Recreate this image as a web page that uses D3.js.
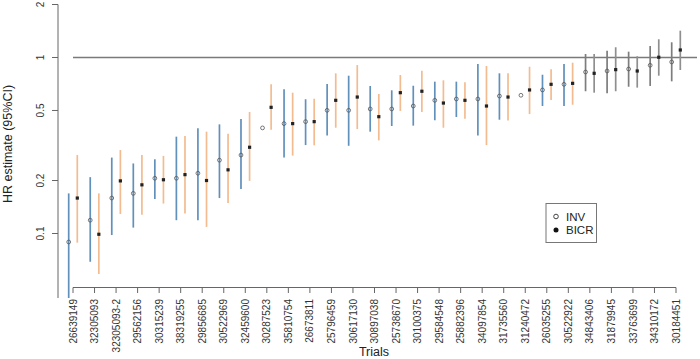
<!DOCTYPE html>
<html><head><meta charset="utf-8">
<script src="https://cdn.jsdelivr.net/npm/d3@7"></script>
<style>body{margin:0;background:#fff}svg{display:block;font-family:"Liberation Sans",Arial,sans-serif}</style>
</head><body><svg id="c" width="700" height="359"></svg>
<script>
const trials = ["26639149","32305093","32305093-2","29562156","30315239","38319255","29856685","30522969","32459600","30287523","35810754","26673811","25796459","30617130","30897038","25738670","30100375","29584548","25882396","34097854","31735560","31240472","26035255","30522922","34843406","31879945","33763699","34310172","30184451"];
const invHR = [0.0895,0.119,0.159,0.169,0.206,0.206,0.220,0.261,0.279,0.398,0.421,0.432,0.501,0.501,0.510,0.510,0.530,0.571,0.581,0.581,0.604,0.610,0.654,0.704,0.827,0.838,0.860,0.903,0.943];
const invLo = [0.04,0.0691,0.098,0.108,0.157,0.119,0.119,0.159,0.179,null,0.270,0.318,0.360,0.315,0.379,0.408,0.410,0.440,0.459,0.360,0.443,null,0.530,0.530,0.643,0.626,0.682,0.689,0.732];
const invHi = [0.169,0.209,0.270,0.250,0.264,0.355,0.396,0.417,0.447,null,0.660,0.579,0.707,0.788,0.689,0.651,0.691,0.729,0.729,0.918,0.813,null,0.798,0.918,1.047,1.093,1.079,1.162,1.22];
const bicrHR = [0.159,0.099,0.199,0.189,0.202,0.216,0.200,0.230,0.309,0.521,0.421,0.432,0.571,0.596,0.461,0.631,0.643,0.551,0.571,0.530,0.596,0.654,0.704,0.713,0.813,0.853,0.838,1.003,1.103];
const bicrLo = [0.0887,0.0589,0.129,0.128,0.148,0.130,0.109,0.149,0.199,0.389,0.277,0.317,0.399,0.392,0.338,0.497,0.490,0.399,0.449,0.318,0.438,0.477,0.574,0.539,0.631,0.643,0.674,0.788,0.849];
const bicrHi = [0.279,0.169,0.298,0.279,0.276,0.358,0.379,0.369,0.490,0.704,0.631,0.583,0.813,0.906,0.620,0.795,0.841,0.742,0.723,0.895,0.813,0.886,0.857,0.934,1.047,1.143,1.016,1.269,1.42];
const grayFrom = "34843406"; // trials from here on drawn in gray
const yTicks = [0.1, 0.2, 0.5, 1, 2];
const seriesNames = ["INV", "BICR"];

const svg = d3.select("#c");
const y = d3.scaleLog().domain([0.1, 2]).range([233.5, 4.5]);
const yBottom = 298;
const x = d3.scalePoint().domain(trials).range([73, 676]);
const off = 4.3;
const grayIdx = trials.indexOf(grayFrom);

svg.append("defs").append("clipPath").attr("id","pc").append("rect")
  .attr("x",58).attr("y",0).attr("width",642).attr("height",yBottom);

svg.append("line").attr("x1",73).attr("x2",697).attr("y1",y(1)).attr("y2",y(1))
  .attr("stroke","#7a7a7a").attr("stroke-width",1.3);

const g = svg.append("g").attr("clip-path","url(#pc)");
const colInv = (i) => i >= grayIdx ? "#7d7d7d" : "#6190bb";
const colBicr = (i) => i >= grayIdx ? "#8f8f8f" : "#f2bc90";

trials.forEach((t, i) => {
  const xi = x(t) - off, xb = x(t) + off;
  if (invLo[i] != null) {
    g.append("line").attr("x1",xi).attr("x2",xi)
      .attr("y1",Math.min(y(invLo[i]), yBottom)).attr("y2",y(invHi[i]))
      .attr("stroke",colInv(i)).attr("stroke-width",1.7);
  }
  g.append("line").attr("x1",xb).attr("x2",xb)
    .attr("y1",Math.min(y(bicrLo[i]), yBottom)).attr("y2",y(bicrHi[i]))
    .attr("stroke",colBicr(i)).attr("stroke-width",1.7);
  g.append("circle").attr("cx",xi).attr("cy",y(invHR[i])).attr("r",1.9)
    .attr("fill","none").attr("stroke","#555").attr("stroke-width",0.8);
  g.append("rect").attr("x",xb-1.6).attr("y",y(bicrHR[i])-1.6).attr("width",3.2).attr("height",3.2)
    .attr("fill","#222");
});

const ya = svg.append("g").attr("fill","#333");
ya.append("line").attr("x1",58).attr("x2",58).attr("y1",y(2)).attr("y2",yBottom).attr("stroke","#666");
yTicks.forEach(v => {
  ya.append("line").attr("x1",52).attr("x2",58).attr("y1",y(v)).attr("y2",y(v)).attr("stroke","#666");
  ya.append("text").attr("transform",`translate(44,${y(v)}) rotate(-90)`)
    .attr("text-anchor","middle").attr("font-size",10).text(String(v));
});
svg.append("text").attr("transform",`translate(12,144) rotate(-90)`)
  .attr("text-anchor","middle").attr("font-size",12.5).attr("fill","#222").text("HR estimate (95%CI)");

const xa = svg.append("g");
xa.append("line").attr("x1",x(trials[0])).attr("x2",x(trials[trials.length-1]))
  .attr("y1",287.5).attr("y2",287.5).attr("stroke","#666");
trials.forEach(t => {
  xa.append("line").attr("x1",x(t)).attr("x2",x(t)).attr("y1",287.5).attr("y2",293).attr("stroke","#666");
  xa.append("text").attr("transform",`translate(${x(t)+3.6},299) rotate(-90)`)
    .attr("text-anchor","end").attr("font-size",10).attr("fill","#333").text(t);
});
svg.append("text").attr("x",374).attr("y",356).attr("text-anchor","middle")
  .attr("font-size",12.5).attr("fill","#222").text("Trials");

const lg = svg.append("g");
lg.append("rect").attr("x",546).attr("y",203.5).attr("width",50.5).attr("height",39)
  .attr("fill","#fff").attr("stroke","#777");
lg.append("circle").attr("cx",556).attr("cy",216.5).attr("r",2.3).attr("fill","none").attr("stroke","#444");
lg.append("circle").attr("cx",556).attr("cy",230).attr("r",2.5).attr("fill","#111");
seriesNames.forEach((s, k) => {
  lg.append("text").attr("x",566).attr("y",220.5 + k*13.5).attr("font-size",11.5).attr("fill","#222").text(s);
});
</script></body></html>
